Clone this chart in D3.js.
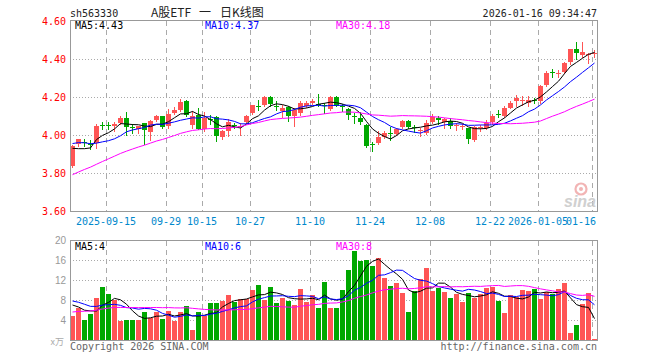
<!DOCTYPE html>
<html><head><meta charset="utf-8">
<script src="https://cdn.jsdelivr.net/npm/d3@7"></script>
<style>body{margin:0;background:#fff}svg{display:block}</style>
</head><body>
<svg id="c" width="660" height="360"></svg>
<script>
// ---------- data ----------
const dates = [
"2025-09-05","2025-09-08","2025-09-09","2025-09-10","2025-09-11","2025-09-12",
"2025-09-15","2025-09-16","2025-09-17","2025-09-18","2025-09-19",
"2025-09-22","2025-09-23","2025-09-24","2025-09-25","2025-09-26",
"2025-09-29","2025-09-30","2025-10-09","2025-10-10",
"2025-10-13","2025-10-14","2025-10-15","2025-10-16","2025-10-17",
"2025-10-20","2025-10-21","2025-10-22","2025-10-23","2025-10-24",
"2025-10-27","2025-10-28","2025-10-29","2025-10-30","2025-10-31",
"2025-11-03","2025-11-04","2025-11-05","2025-11-06","2025-11-07",
"2025-11-10","2025-11-11","2025-11-12","2025-11-13","2025-11-14",
"2025-11-17","2025-11-18","2025-11-19","2025-11-20","2025-11-21",
"2025-11-24","2025-11-25","2025-11-26","2025-11-27","2025-11-28",
"2025-12-01","2025-12-02","2025-12-03","2025-12-04","2025-12-05",
"2025-12-08","2025-12-09","2025-12-10","2025-12-11","2025-12-12",
"2025-12-15","2025-12-16","2025-12-17","2025-12-18","2025-12-19",
"2025-12-22","2025-12-23","2025-12-24","2025-12-25","2025-12-26",
"2025-12-29","2025-12-30","2025-12-31",
"2026-01-05","2026-01-06","2026-01-07","2026-01-08","2026-01-09",
"2026-01-12","2026-01-13","2026-01-14","2026-01-15","2026-01-16"];

const open = [3.835,3.95,3.965,3.955,3.96,4.055,4.055,4.045,4.065,4.09,
4.04,4.03,4.065,4.015,4.08,4.10,4.045,4.115,4.13,4.18,
4.055,4.105,4.03,4.085,4.095,3.99,4.02,4.055,4.045,4.07,
4.115,4.15,4.16,4.20,4.155,4.125,4.145,4.10,4.115,4.15,
4.17,4.165,4.16,4.135,4.20,4.15,4.135,4.10,4.088,4.055,
3.955,3.96,3.99,4.01,4.005,4.04,4.075,4.04,4.02,4.01,
4.07,4.09,4.068,4.072,4.05,4.045,4.035,3.975,4.035,4.035,
4.07,4.11,4.10,4.14,4.18,4.18,4.17,4.185,4.18,4.265,
4.33,4.32,4.33,4.385,4.45,4.42,4.425,4.425];
const high = [3.945,3.98,3.98,3.975,4.06,4.07,4.07,4.07,4.10,4.12,
4.06,4.05,4.065,4.08,4.105,4.10,4.135,4.145,4.19,4.185,
4.125,4.14,4.12,4.105,4.10,4.025,4.085,4.065,4.065,4.105,
4.16,4.185,4.205,4.205,4.18,4.16,4.15,4.14,4.18,4.18,
4.19,4.215,4.17,4.205,4.205,4.165,4.14,4.115,4.12,4.06,
3.965,4.02,4.02,4.04,4.035,4.08,4.08,4.055,4.035,4.08,
4.11,4.10,4.09,4.09,4.065,4.06,4.035,4.045,4.055,4.077,
4.11,4.13,4.15,4.18,4.21,4.205,4.205,4.195,4.265,4.335,
4.35,4.34,4.385,4.45,4.49,4.49,4.43,4.445];
const low = [3.83,3.94,3.94,3.925,3.93,4.03,4.03,4.02,4.06,4.00,
4.01,4.01,3.955,3.975,4.075,4.035,4.035,4.11,4.125,4.10,
4.035,4.03,4.02,4.06,3.97,3.98,3.995,4.035,4.00,4.065,
4.11,4.13,4.15,4.155,4.13,4.095,4.075,4.05,4.105,4.145,
4.165,4.15,4.115,4.13,4.15,4.125,4.085,4.065,4.06,3.935,
3.915,3.955,3.985,3.975,4.00,4.035,4.035,4.015,3.995,4.005,
4.065,4.06,4.035,4.035,4.025,4.03,3.96,3.97,4.02,4.03,
4.06,4.095,4.095,4.14,4.155,4.16,4.15,4.17,4.17,4.26,
4.305,4.305,4.325,4.375,4.40,4.41,4.38,4.41];
const close = [3.94,3.98,3.96,3.95,4.05,4.05,4.05,4.06,4.09,4.04,
4.035,4.045,4.025,4.075,4.10,4.04,4.11,4.13,4.175,4.105,
4.10,4.03,4.09,4.08,3.995,4.02,4.07,4.05,4.05,4.10,
4.16,4.145,4.20,4.165,4.15,4.14,4.10,4.13,4.17,4.17,
4.18,4.16,4.155,4.20,4.155,4.145,4.105,4.095,4.07,3.94,
3.95,3.99,4.01,4.005,4.03,4.075,4.04,4.035,4.025,4.065,
4.095,4.077,4.083,4.045,4.055,4.048,3.98,4.04,4.04,4.065,
4.10,4.105,4.14,4.17,4.195,4.183,4.185,4.18,4.26,4.325,
4.325,4.325,4.38,4.45,4.43,4.435,4.428,4.43];
const volume = [4.8,6.5,4.0,5.3,8.4,10.6,9.3,8.0,3.9,4.0,
4.0,4.1,5.6,4.5,5.6,4.2,5.8,3.9,5.6,6.8,
2.0,5.6,4.8,7.4,7.4,7.9,9.0,7.7,8.2,8.2,
10.0,11.0,8.0,10.6,7.5,8.4,7.8,7.0,10.2,7.7,
9.0,6.4,11.6,6.4,6.4,10.0,14.0,17.8,15.9,16.0,
14.9,16.4,12.5,10.8,11.5,9.5,5.7,9.8,12.3,14.5,
9.8,10.5,9.7,8.4,9.3,7.7,9.4,8.4,9.2,10.5,
10.7,7.9,5.5,9.0,8.7,10.0,9.8,10.2,8.3,9.7,
9.3,10.2,11.5,1.4,3.0,7.2,9.5,0.3];
// estimated values of the 29 sessions before the window (only used to warm up the moving averages)
const priorCloses = [3.55,3.56,3.58,3.60,3.61,3.63,3.64,3.66,3.68,3.70,
3.72,3.74,3.75,3.77,3.79,3.80,3.82,3.84,3.86,3.88,
3.93,3.97,4.00,4.02,3.98,3.99,3.96,3.93,3.83];
const priorVolumes = [3.0,3.2,3.5,3.3,3.8,4.0,3.6,4.2,4.5,4.0,
4.8,5.0,4.6,5.2,5.5,5.0,5.8,6.0,5.5,5.5,
9.0,8.0,9.5,8.5,8.0,8.5,7.2,6.0,8.5];

const tickDates = ["2025-09-15","2025-09-29","2025-10-15","2025-10-27","2025-11-10","2025-11-24","2025-12-08","2025-12-22","2026-01-05","2026-01-16"];
const tickLabels = ["2025-09-15","09-29","10-15","10-27","11-10","11-24","12-08","12-22","2026-01-05","01-16"];
const priceTicks = [3.6,3.8,4.0,4.2,4.4,4.6];
const volTicks = [4,8,12,16,20];
const maPeriods = [5,10,30];
const priceMaLabels = ["MA5:4.43","MA10:4.37","MA30:4.18"];
const volMaLabels = ["MA5:4","MA10:6","MA30:8"];
const symbol = "sh563330";
const titleParts = ["A股ETF","一","日K线图"];
const timestamp = "2026-01-16 09:34:47";

// ---------- styles ----------
const MONO = "'DejaVu Sans Mono', 'Liberation Mono', monospace";
const UP = "#ff5555", DOWN = "#00a800";
const maColors = ["#000000","#0000ff","#ff00ff"];
const L = 70, R = 597;
const P = {top:20, bottom:211}, V = {top:240, bottom:340};

const svg = d3.select("#c");

const x = d3.scaleBand().domain(dates).range([L, R]).paddingInner(1/6).paddingOuter(0);
const yP = d3.scaleLinear().domain([3.6, 4.6]).range([211, 21]);
const yV = d3.scaleLinear().domain([0, 20]).range([V.bottom, V.top]);
const xl = d => Math.round(x(d));

function movingAvg(prior, vals, n){
  const all = prior.concat(vals), off = prior.length;
  return vals.map((v,i)=>d3.mean(all.slice(off+i-n+1, off+i+1)));
}

// ---------- grids ----------
function grid(g, top, bottom, yScale, hTicks){
  g.selectAll(".h").data(hTicks).join("line")
    .attr("x1", L).attr("x2", R)
    .attr("y1", d=>Math.round(yScale(d))+0.5).attr("y2", d=>Math.round(yScale(d))+0.5)
    .attr("stroke","#aaa").attr("stroke-dasharray","1,2");
  g.selectAll(".v").data(tickDates).join("line")
    .attr("x1", d=>xl(d)+0.5).attr("x2", d=>xl(d)+0.5)
    .attr("y1", top).attr("y2", bottom)
    .attr("stroke","#aaa").attr("stroke-dasharray","5,4");
}
grid(svg.append("g"), P.top+1, P.bottom, yP, [3.8,4.0,4.2,4.4]);
grid(svg.append("g"), V.top+1, V.bottom, yV, [4,8,12,16]);

// ---------- watermark ----------
const wm = svg.append("g").attr("opacity",0.85);
wm.append("circle").attr("cx",581).attr("cy",189).attr("r",5.5).attr("fill","none").attr("stroke","#f0a8a8").attr("stroke-width",2.2);
wm.append("circle").attr("cx",581).attr("cy",189).attr("r",2).attr("fill","#f0a8a8");
wm.append("text").attr("x",564).attr("y",207).text("sina")
  .attr("font-family","'Liberation Sans',Arial,sans-serif").attr("font-weight","bold").attr("font-style","italic")
  .attr("font-size",16).attr("fill","#c8c8c8");

// ---------- candles ----------
const idx = d3.range(dates.length);
const cg = svg.append("g").attr("shape-rendering","crispEdges");
const colorOf = i => close[i] >= open[i] ? UP : DOWN;
cg.selectAll(".wick").data(idx).join("line")
  .attr("x1", i=>xl(dates[i])+2.5).attr("x2", i=>xl(dates[i])+2.5)
  .attr("y1", i=>Math.round(yP(high[i]))).attr("y2", i=>Math.round(yP(low[i]))+1)
  .attr("stroke", colorOf);
cg.selectAll(".body").data(idx).join("rect")
  .attr("x", i=>xl(dates[i])).attr("width", x.bandwidth())
  .attr("y", i=>Math.round(yP(Math.max(open[i],close[i]))))
  .attr("height", i=>Math.max(1, Math.round(yP(Math.min(open[i],close[i]))) - Math.round(yP(Math.max(open[i],close[i])))))
  .attr("fill", colorOf);

// ---------- volume bars ----------
svg.append("g").attr("shape-rendering","crispEdges")
  .selectAll("rect").data(idx).join("rect")
  .attr("x", i=>xl(dates[i])).attr("width", x.bandwidth())
  .attr("y", i=>Math.round(yV(volume[i])))
  .attr("height", i=>V.bottom - Math.round(yV(volume[i])))
  .attr("fill", colorOf);

// ---------- moving averages ----------
maPeriods.forEach((n,k)=>{
  const mp = movingAvg(priorCloses, close, n);
  const mv = movingAvg(priorVolumes, volume, n);
  const lineP = d3.line().x((d,i)=>xl(dates[i])+2.5).y(d=>yP(d));
  const lineV = d3.line().x((d,i)=>xl(dates[i])+2.5).y(d=>yV(d));
  svg.append("path").attr("d", lineP(mp)).attr("fill","none").attr("stroke",maColors[k]).attr("stroke-width",1);
  svg.append("path").attr("d", lineV(mv)).attr("fill","none").attr("stroke",maColors[k]).attr("stroke-width",1);
});

// ---------- frames ----------
[[P.top,P.bottom],[V.top,V.bottom]].forEach(([t,b])=>{
  svg.append("rect").attr("x",L+0.5).attr("y",t+0.5).attr("width",R-L).attr("height",b-t)
    .attr("fill","none").attr("stroke","#999");
});

// ---------- axes ----------
const ax1 = svg.append("g").attr("transform",`translate(${L},0)`)
  .call(d3.axisLeft(yP).tickValues(priceTicks).tickSize(0).tickPadding(4).tickFormat(d3.format(".2f")));
ax1.select(".domain").remove();
ax1.selectAll("text").attr("fill","#ff0000").attr("font-family",MONO).attr("font-size",10);

const ax2 = svg.append("g").attr("transform",`translate(${L},0)`)
  .call(d3.axisLeft(yV).tickValues(volTicks).tickSize(0).tickPadding(4).tickFormat(d3.format("d")));
ax2.select(".domain").remove();
ax2.selectAll("text").attr("fill","#999").attr("font-family","'Liberation Sans',Arial,sans-serif").attr("font-size",10);

const ax3 = svg.append("g").attr("transform",`translate(${-x.bandwidth()/2},${P.bottom})`)
  .call(d3.axisBottom(x).tickValues(tickDates).tickSize(0).tickPadding(7).tickFormat((d,i)=>tickLabels[i]));
ax3.select(".domain").remove();
ax3.selectAll("text").attr("fill","#0088cc").attr("font-family",MONO).attr("font-size",10);
ax3.selectAll(".tick").filter((d,i)=>i===tickDates.length-1).select("text")
  .attr("text-anchor","end").attr("x",4);

// ---------- texts ----------
const T = (xx,yy,s,opt={}) => svg.append("text").attr("x",xx).attr("y",yy).text(s)
  .attr("font-family",opt.ff||MONO).attr("font-size",opt.fs||10).attr("fill",opt.fill||"#000")
  .attr("text-anchor",opt.anchor||"start");
T(70,17,symbol,{fill:"#222"});
T(151,16.5,titleParts[0],{ff:"'Noto Sans CJK SC',sans-serif",fs:12,fill:"#222"});
T(199,16.5,titleParts[1],{ff:"'Noto Sans CJK SC',sans-serif",fs:12,fill:"#222"});
T(220,16.5,titleParts[2],{ff:"'Noto Sans CJK SC',sans-serif",fs:12,fill:"#222"});
T(597,17,timestamp,{anchor:"end",fill:"#222"});
const labX = [75,205,336];
priceMaLabels.forEach((s,k)=>T(labX[k],29,s,{fill:maColors[k]}));
volMaLabels.forEach((s,k)=>T(labX[k],250,s,{fill:maColors[k]}));
T(64,345,"x万",{anchor:"end",fill:"#aaa",ff:"'Noto Sans CJK SC',sans-serif",fs:9});
T(70,350,"Copyright 2026 SINA.COM",{fill:"#666"});
T(597,350,"http://finance.sina.com.cn",{anchor:"end",fill:"#666"});
</script>
</body></html>
